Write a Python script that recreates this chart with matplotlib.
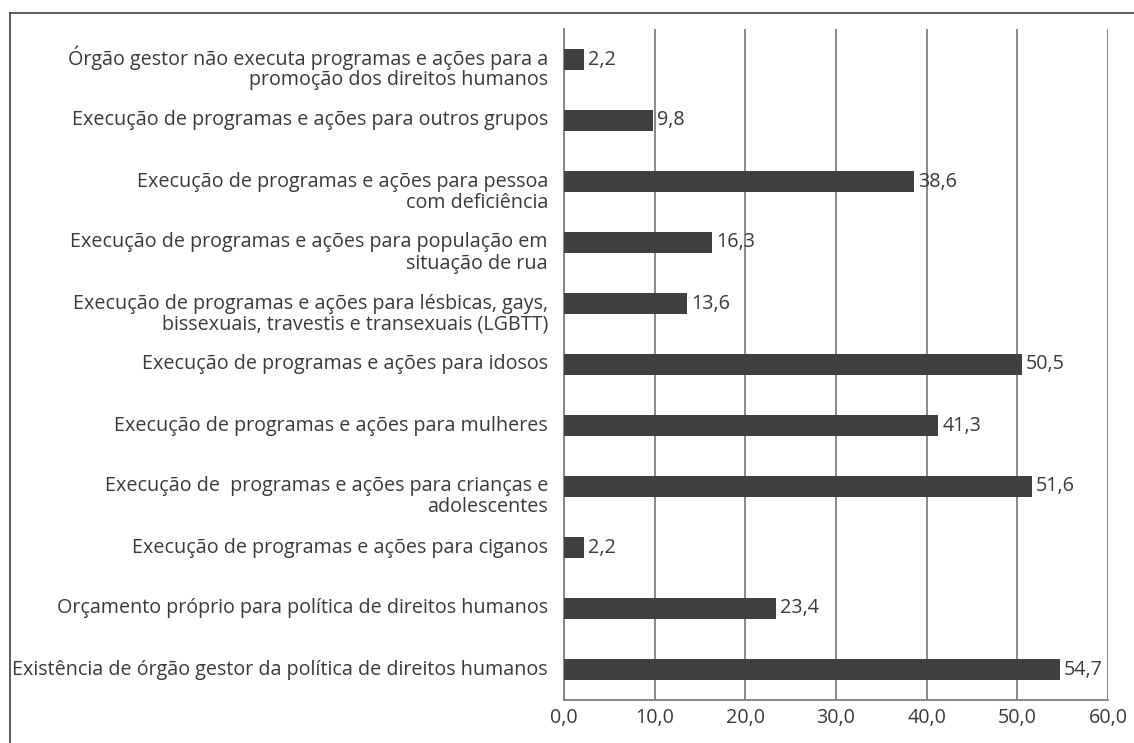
import matplotlib
matplotlib.use("Agg")
import matplotlib.pyplot as plt
import matplotlib.transforms as mtransforms
from matplotlib.lines import Line2D

plt.rcParams['font.family'] = ['Open Sans', 'DejaVu Sans']

categories = [
    "Órgão gestor não executa programas e ações para a\npromoção dos direitos humanos",
    "Execução de programas e ações para outros grupos",
    "Execução de programas e ações para pessoa\ncom deficiência",
    "Execução de programas e ações para população em\nsituação de rua",
    "Execução de programas e ações para lésbicas, gays,\nbissexuais, travestis e transexuais (LGBTT)",
    "Execução de programas e ações para idosos",
    "Execução de programas e ações para mulheres",
    "Execução de  programas e ações para crianças e\nadolescentes",
    "Execução de programas e ações para ciganos",
    "Orçamento próprio para política de direitos humanos",
    "Existência de órgão gestor da política de direitos humanos",
]
values = [2.2, 9.8, 38.6, 16.3, 13.6, 50.5, 41.3, 51.6, 2.2, 23.4, 54.7]
xticks = [0, 10, 20, 30, 40, 50, 60]

bar_color = '#404040'
grid_color = '#808080'
text_color = '#3a3a3a'
fs = 14.2

fig = plt.figure(figsize=(11.34, 7.43), dpi=100)
ax = fig.add_axes([564 / 1134, 1 - 700 / 743, (1108 - 564) / 1134, (700 - 29) / 743])

ypos = list(range(len(categories)))
ax.barh(ypos, values, height=0.34, color=bar_color, zorder=3)

ax.set_xlim(0, 60)
ax.set_ylim(len(categories) - 0.5, -0.5)
ax.set_xticks(xticks)
ax.set_xticklabels([f"{t:.1f}".replace('.', ',') for t in xticks],
                   fontsize=fs, color=text_color)
ax.tick_params(axis='x', length=0, pad=6)
ax.set_yticks([])
ax.xaxis.grid(True, color=grid_color, linewidth=1.3, zorder=0)
for side in ['top', 'right']:
    ax.spines[side].set_visible(False)
for side in ['left', 'bottom']:
    ax.spines[side].set_color(grid_color)
    ax.spines[side].set_linewidth(1.3)

# category labels: first line level with the bar, further lines below it
base_tr = mtransforms.blended_transform_factory(ax.transAxes, ax.transData)
for i, c in enumerate(categories):
    for k, line in enumerate(c.split('\n')):
        tr = base_tr + mtransforms.ScaledTranslation(-16 / 100, (-5 - 21 * k) / 100,
                                                     fig.dpi_scale_trans)
        ax.text(0, i, line, transform=tr, ha='right', va='baseline', fontsize=fs,
                color=text_color)

# value labels
val_tr = ax.transData + mtransforms.ScaledTranslation(4 / 100, -5 / 100, fig.dpi_scale_trans)
for i, v in enumerate(values):
    ax.text(v, i, f"{v:.1f}".replace('.', ','), transform=val_tr, ha='left',
            va='baseline', fontsize=fs, color=text_color, zorder=4)

# outer frame (left and top edges visible)
fig.add_artist(Line2D([10 / 1134, 10 / 1134], [0, 1 - 13 / 743], transform=fig.transFigure,
                      color='#404040', linewidth=1.2))
fig.add_artist(Line2D([10 / 1134, 1], [1 - 13 / 743, 1 - 13 / 743], transform=fig.transFigure,
                      color='#404040', linewidth=1.2))

fig.savefig('out.png', dpi=100)
